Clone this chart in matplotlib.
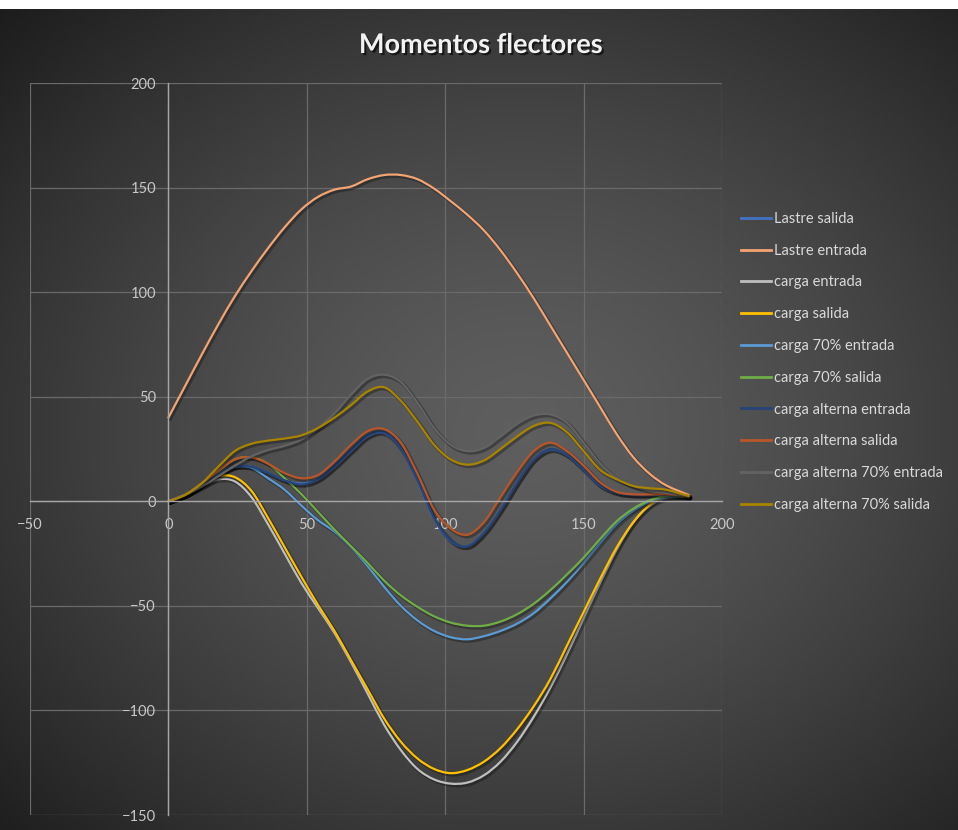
import numpy as np
import matplotlib
matplotlib.use("Agg")
import matplotlib.pyplot as plt
from matplotlib.path import Path
from matplotlib.patches import PathPatch
from matplotlib.lines import Line2D
import matplotlib.patheffects as pe

plt.rcParams['font.family'] = ['Lato', 'DejaVu Sans']

# section positions (x) shared by all series
x = [0, 6, 12, 18, 24, 30, 36, 42, 48, 54, 60, 66, 72, 78, 84, 90,
     96, 102, 108, 114, 120, 126, 132, 138, 144, 150, 156, 162, 168, 174, 180, 188]

lastre_salida = [0, 3, 8, 13, 16.5, 16.5, 13.5, 10, 8.5, 10.5, 16.5, 24, 31, 32.5, 25, 9.5,
                 -8.5, -19, -21.5, -15, -4, 9, 20, 24.5, 22, 15, 7.5, 4, 3, 3, 3, 2.4]
lastre_entrada = [40, 55, 70, 84.5, 98, 110, 121, 131, 139.5, 145.5, 149, 150.5, 154, 156, 156, 154,
                  149.5, 143.5, 137, 129.5, 120, 109, 97, 84, 71, 58, 45, 32, 21, 13, 7.5, 3]
carga_entrada = [0, 3, 7, 10.5, 9.5, 2, -11, -25, -39, -51, -63, -77, -92, -107, -119, -128,
                 -133, -135, -134.5, -131, -124.5, -115, -103, -89, -73, -56, -39, -23, -10, -2, 1.5, 2]
carga_salida = [0, 3, 7.5, 12, 11.5, 5, -8, -22, -36, -49.5, -62, -76, -90, -104, -115, -123,
                -128, -130, -128.5, -124.5, -118, -109, -98, -85, -69, -53, -37, -22, -10, -1.5, 2.5, 2]
carga70_entrada = [0, 3, 8, 13, 16.5, 16, 11, 5.5, -2, -9, -14.5, -22, -31, -41, -50, -57,
                   -62, -65, -66, -64.5, -62, -58.5, -53.5, -46.5, -38.5, -29.5, -20, -11, -4.5, 0, 2, 2]
carga70_salida = [0, 3, 8.5, 14.5, 20, 21, 18, 11, 3.5, -5, -13.5, -21.5, -29.5, -38, -45, -50.5,
                  -55, -58, -59.5, -59.5, -57.5, -54, -49, -42.5, -35, -27, -18, -9.5, -3.5, 0.5, 2.5, 2]
alterna_entrada = [0, 3, 8, 13, 16.5, 16.5, 13.5, 10, 8, 10.5, 17, 24.5, 31.5, 33, 25, 10,
                   -8, -18.5, -21.5, -15, -4, 9, 20, 25, 22, 15, 7.5, 4, 3, 3, 3, 2.4]
alterna_salida = [0, 3, 8.5, 14.5, 20, 21, 18, 13.5, 11, 12.5, 19, 27, 33.5, 34.5, 28, 13,
                  -4, -13, -16, -10, 2, 14, 24, 28, 24, 17, 9, 4.5, 3.3, 3.3, 3.3, 2.4]
alterna70_entrada = [0, 3, 7, 12, 17, 21.5, 24.5, 26.5, 29.5, 35, 42, 51, 58.5, 60.5, 57, 47,
                     35, 27, 24, 25.5, 31, 37, 41, 41.5, 37.5, 28, 18, 11, 7.3, 5, 4, 2.5]
alterna70_salida = [0, 3, 8.5, 16.5, 24, 27.5, 29, 30, 31.5, 35, 40, 46, 52.5, 54.5, 48, 38,
                    27, 20, 17.5, 19.5, 25, 31, 36, 37.5, 33, 24, 15, 10.5, 7.3, 6.2, 5.5, 2.5]

labels = ['Lastre salida', 'Lastre entrada', 'carga entrada', 'carga salida',
          'carga 70% entrada', 'carga 70% salida', 'carga alterna entrada',
          'carga alterna salida', 'carga alterna 70% entrada', 'carga alterna 70% salida']
values = [lastre_salida, lastre_entrada, carga_entrada, carga_salida, carga70_entrada,
          carga70_salida, alterna_entrada, alterna_salida, alterna70_entrada, alterna70_salida]
colors = ['#4472C4', '#F4A373', '#BFBFBF', '#FFC000', '#5B9BD5',
          '#70AD47', '#264478', '#B8562A', '#636363', '#A88400']


def smooth_path(xs, ys):
    # Catmull-Rom through the points, like Excel's smoothed line
    p = np.column_stack([xs, ys]).astype(float)
    n = len(p)
    verts = [p[0]]
    codes = [Path.MOVETO]
    for i in range(n - 1):
        p0 = p[max(i - 1, 0)]
        p1 = p[i]
        p2 = p[i + 1]
        p3 = p[min(i + 2, n - 1)]
        verts += [p1 + (p2 - p0) / 6, p2 - (p3 - p1) / 6, p2]
        codes += [Path.CURVE4] * 3
    return Path(verts, codes)


fig = plt.figure(figsize=(9.58, 8.30), dpi=100)

# dark radial background
bg = fig.add_axes([0, 0, 1, 1], zorder=-10)
h, w = 830, 958
yy, xx = np.mgrid[0:h, 0:w]
r = np.hypot((xx - 520) / 620, (yy - 430) / 520)
val = 0.37 - 0.21 * np.clip(r, 0, 1.2) ** 1.4
img = np.dstack([val, val, val])
img[:10] = 1.0
bg.imshow(img, aspect='auto', interpolation='bilinear')
bg.axis('off')

ax = fig.add_axes([30 / 958, 1 - 815 / 830, (722 - 30) / 958, (815 - 83) / 830])
ax.set_facecolor('none')
ax.set_xlim(-50, 200)
ax.set_ylim(-150, 200)
ax.set_xticks(range(-50, 201, 50))
ax.set_yticks(range(-150, 201, 50))
ax.grid(True, color='#6a6a6a', linewidth=0.9)
ax.set_axisbelow(True)

for s in ['top', 'right']:
    ax.spines[s].set_visible(False)
ax.spines['left'].set_position(('data', 0))
ax.spines['bottom'].set_position(('data', 0))
ax.spines['left'].set_color('#a6a6a6')
ax.spines['bottom'].set_color('#a6a6a6')
ax.spines['left'].set_linewidth(1.0)
ax.spines['bottom'].set_linewidth(1.0)
ax.tick_params(axis='both', length=0, colors='#c8c8c8', labelsize=10.5)
ax.tick_params(axis='y', pad=9)
ax.tick_params(axis='x', pad=12)

shadow = [pe.Stroke(offset=(1.2, -1.2), linewidth=2.6, foreground='black', alpha=0.3),
          pe.Normal()]

handles = []
for lab, vals, col in zip(labels, values, colors):
    patch = PathPatch(smooth_path(x, vals), facecolor='none', edgecolor=col,
                      linewidth=1.6, capstyle='round', joinstyle='round')
    patch.set_path_effects(shadow)
    ax.add_patch(patch)
    handles.append(Line2D([], [], color=col, linewidth=2.0))

leg = fig.legend(handles, labels, loc='upper left', bbox_to_anchor=(735 / 958, 1 - 206 / 830),
                 frameon=False, fontsize=10.5, labelcolor='#d9d9d9', handlelength=2.1,
                 handletextpad=0.15, labelspacing=1.22, borderaxespad=0)

fig.text(0.502, 1 - 45 / 830, 'Momentos flectores', ha='center', va='center',
         fontsize=19.5, fontweight='bold', color='#f2f2f2',
         path_effects=[pe.withSimplePatchShadow(offset=(1.5, -1.5), shadow_rgbFace='black', alpha=0.6)])

fig.savefig('out.png', dpi=100)
